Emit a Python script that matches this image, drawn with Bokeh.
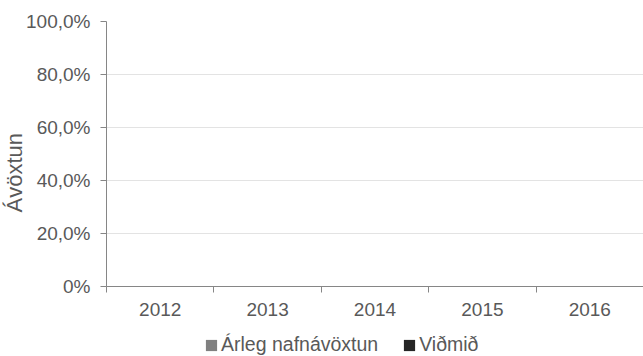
from bokeh.embed import file_html
from bokeh.resources import INLINE
from bokeh.layouts import column
from bokeh.plotting import figure
from bokeh.models import (ColumnDataSource, Range1d, FixedTicker, CustomJSTickFormatter,
                          Legend, LegendItem, Title)
from bokeh.transform import dodge

# Annual nominal return vs. benchmark (no values reported for these years)
years = ["2012", "2013", "2014", "2015", "2016"]
arleg_nafnavoxtun = [None, None, None, None, None]
vidmid = [None, None, None, None, None]
y_ticks = [0, 20, 40, 60, 80, 100]

TEXT = "#595959"
AXIS = "#868686"
FONT = "Liberation Sans"
C_ARLEG = "#808080"
C_VIDMID = "#262626"

source = ColumnDataSource(dict(
    x=[i + 0.5 for i in range(len(years))],
    arleg=arleg_nafnavoxtun,
    vidmid=vidmid,
))

p = figure(width=643, height=326, output_backend="svg", toolbar_location=None,
           x_range=Range1d(0, len(years)), y_range=Range1d(0, 100),
           min_border_left=106, min_border_right=0, min_border_top=21, min_border_bottom=40)
p.outline_line_color = None
p.background_fill_color = "white"
p.border_fill_color = "white"

p.vbar(x=dodge("x", -0.18, range=p.x_range), top="arleg", width=0.34,
       source=source, fill_color=C_ARLEG, line_color=None)
p.vbar(x=dodge("x", 0.18, range=p.x_range), top="vidmid", width=0.34,
       source=source, fill_color=C_VIDMID, line_color=None)

# x axis: labels centred on categories, tick marks on category boundaries
xa = p.xaxis[0]
xa.ticker = FixedTicker(ticks=[i + 0.5 for i in range(len(years))],
                        minor_ticks=list(range(len(years) + 1)))
xa.formatter = CustomJSTickFormatter(args=dict(labels=years),
                                     code="return labels[Math.floor(tick)]")
xa.major_tick_in = 0
xa.major_tick_out = 0
xa.minor_tick_in = 0
xa.minor_tick_out = 6
xa.minor_tick_line_color = AXIS
xa.axis_line_color = AXIS
xa.major_label_standoff = 10
xa.major_label_text_font = FONT
xa.major_label_text_font_size = "19px"
xa.major_label_text_color = TEXT

# y axis: percent with comma decimal separator
ya = p.yaxis[0]
ya.ticker = FixedTicker(ticks=y_ticks)
ya.formatter = CustomJSTickFormatter(
    code='return tick == 0 ? "0%" : tick.toFixed(1).replace(".", ",") + "%"')
ya.major_tick_in = 0
ya.major_tick_out = 6
ya.minor_tick_line_color = None
ya.major_tick_line_color = AXIS
ya.axis_line_color = AXIS
ya.major_label_standoff = 10
ya.major_label_text_font = FONT
ya.major_label_text_font_size = "19px"
ya.major_label_text_color = TEXT

p.xgrid.grid_line_color = None
p.ygrid.grid_line_color = "#e3e3e3"
p.ygrid.grid_line_width = 1

# y axis title, placed outside the tick labels
p.add_layout(Title(text="Ávöxtun", align="left", offset=74, standoff=-6,
                   text_font=FONT, text_font_size="22px", text_font_style="normal",
                   text_color=TEXT), "left")

# legend strip underneath the chart
leg = figure(width=643, height=30, output_backend="svg", toolbar_location=None,
             x_range=Range1d(0, len(years)), y_range=Range1d(0, 100),
             x_axis_location=None, y_axis_location=None, min_border=0)
leg.outline_line_color = None
leg.grid.grid_line_color = None
l1 = leg.vbar(x="x", top="arleg", width=0.34, source=source,
              fill_color=C_ARLEG, line_color=None)
l2 = leg.vbar(x="x", top="vidmid", width=0.34, source=source,
              fill_color=C_VIDMID, line_color=None)
legend = Legend(items=[LegendItem(label="Árleg nafnávöxtun", renderers=[l1]),
                       LegendItem(label="Viðmið", renderers=[l2])],
                orientation="horizontal", location=(98, 0),
                border_line_color=None, background_fill_alpha=0,
                glyph_width=14, glyph_height=14, label_standoff=3, spacing=24,
                padding=4, margin=0,
                label_text_font=FONT, label_text_font_size="19.5px", label_text_color=TEXT)
leg.add_layout(legend, "center")

layout = column(p, leg, spacing=0)
open("out.html", "w").write(file_html(layout, INLINE))
